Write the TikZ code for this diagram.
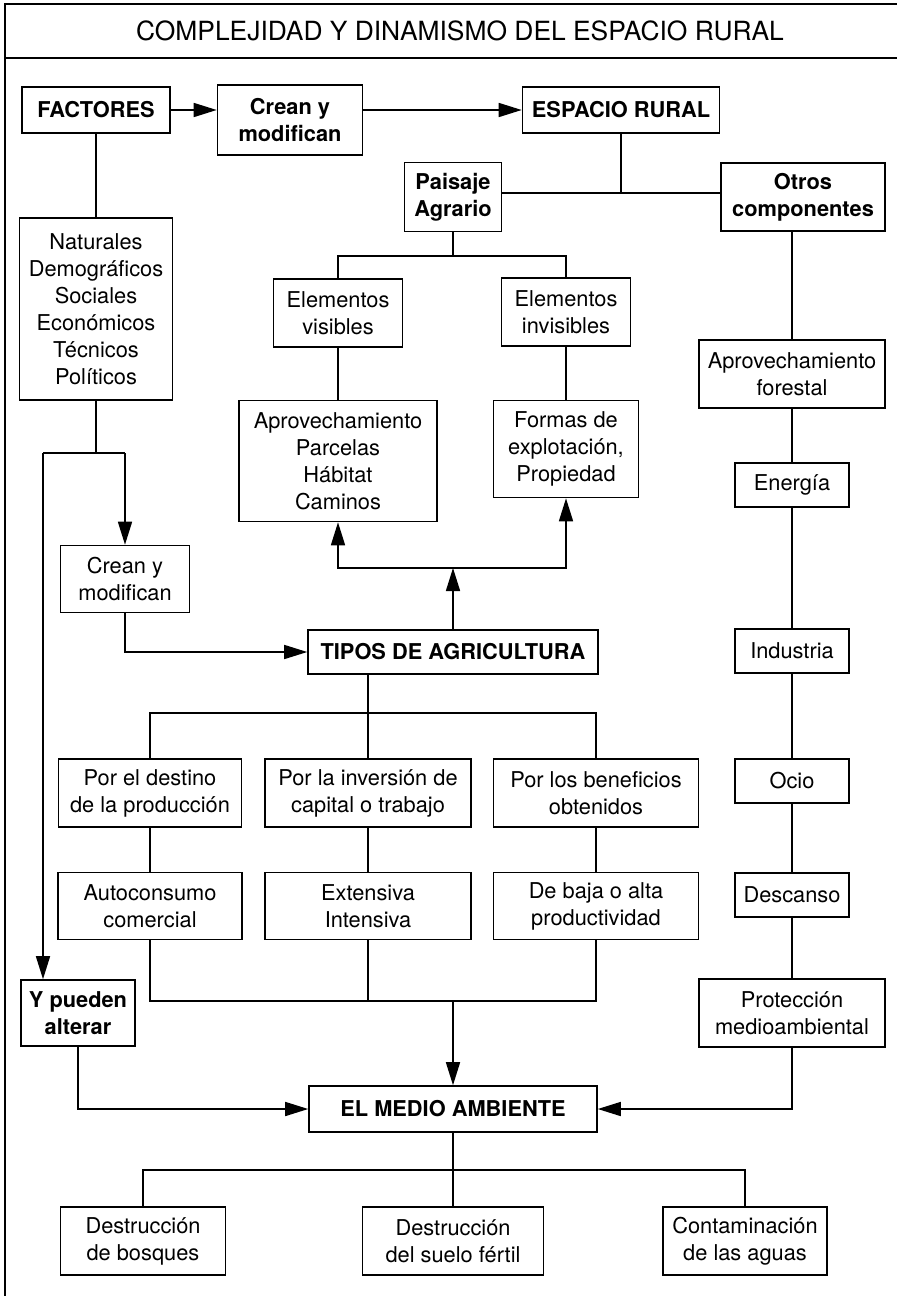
\documentclass[tikz,border=0pt]{standalone}
\usepackage{fontspec}
\setmainfont{TeX Gyre Heros}
\usetikzlibrary{arrows.meta}

\newcommand{\txt}{\fontsize{10.9}{13.5}\selectfont}

\begin{document}
\begin{tikzpicture}[x=0.5pt, y=-0.5pt,
    box/.style={draw, line width=0.8pt, align=center, inner sep=1pt, font=\txt},
    bbox/.style={box, font=\txt\bfseries},
    wh/.style 2 args={minimum width=#1*0.5pt, minimum height=#2*0.5pt},
    link/.style={line width=0.8pt},
    arr/.style={link, -{Triangle[length=11.5pt, width=7pt]}}]
  \useasboundingbox (0,0) rectangle (897,1296);

  % frame and title
  \draw[link] (5,1296) -- (5,4) -- (897,4);
  \draw[link] (5,58) -- (897,58);
  \node[font=\fontsize{13.2}{15}\selectfont] (title) at (460,31) {COMPLEJIDAD Y DINAMISMO DEL ESPACIO RURAL};

  % levels of the branch lines
  \coordinate (lvA) at (0,193);
  \coordinate (lvB) at (0,256);
  \coordinate (lvC) at (0,453);
  \coordinate (lvD) at (0,568);
  \coordinate (lvE) at (0,713);
  \coordinate (lvF) at (0,1001);
  \coordinate (lvH) at (0,1170);
  \coordinate (ypx) at (43,0);

  % top row
  \node[bbox, wh={148}{46}] (factores) at (96,110) {FACTORES};
  \node[bbox, wh={145}{70}] (crean) at (290,120) {Crean y\\modifican};
  \node[bbox, wh={197}{46}] (espacio) at (621,110) {ESPACIO RURAL};
  \node[bbox, wh={97}{69}] (paisaje) at (453,197) {Paisaje\\Agrario};
  \node[bbox, wh={164}{68}] (otros) at (803,197) {Otros\\componentes};

  % paisaje agrario
  \node[box, wh={129}{68}] (visibles) at (338,313) {Elementos\\visibles};
  \node[box, wh={129}{68}] (invisibles) at (566,312) {Elementos\\invisibles};
  \node[box, wh={198}{121}] (aprov) at (338,461) {Aprovechamiento\\Parcelas\\Hábitat\\Caminos};
  \node[box, wh={145}{97}] (formas) at (566,449) {Formas de\\explotación,\\Propiedad};

  % factores
  \node[box, wh={153}{182}] (lista) at (96,309) {Naturales\\Demográficos\\Sociales\\Económicos\\Técnicos\\Políticos};
  \node[box, wh={129}{67}] (creanb) at (125,579) {Crean y\\modifican};
  \node[bbox, wh={114}{66}] (ypueden) at (78,1013) {Y pueden\\alterar};

  % tipos de agricultura
  \node[bbox, wh={290}{44}] (tipos) at (453,652) {TIPOS DE AGRICULTURA};
  \node[box, wh={183}{68}] (destino) at (150,793) {Por el destino\\de la producción};
  \node[box, wh={206}{68}] (inversion) at (368,793) {Por la inversión de\\capital o trabajo};
  \node[box, wh={205}{68}] (beneficios) at (596,793) {Por los beneficios\\obtenidos};
  \node[box, wh={184}{67}] (autocons) at (150,906) {Autoconsumo\\comercial};
  \node[box, wh={206}{67}] (extensiva) at (368,906) {Extensiva\\Intensiva};
  \node[box, wh={205}{67}] (baja) at (596,906) {De baja o alta\\productividad};

  % otros componentes
  \node[box, wh={186}{68}] (forestal) at (792,374) {Aprovechamiento\\forestal};
  \node[box, wh={114}{44}] (energia) at (792,485) {Energía};
  \node[box, wh={114}{44}] (industria) at (792,651) {Industria};
  \node[box, wh={114}{44}] (ocio) at (792,781) {Ocio};
  \node[box, wh={114}{44}] (descanso) at (792,895) {Descanso};
  \node[box, wh={186}{68}] (proteccion) at (792,1013) {Protección\\medioambiental};

  % medio ambiente
  \node[bbox, wh={288}{46}] (medio) at (453,1109) {EL MEDIO AMBIENTE};
  \node[box, wh={165}{68}] (bosques) at (143,1241) {Destrucción\\de bosques};
  \node[box, wh={181}{68}] (suelo) at (453,1241) {Destrucción\\del suelo fértil};
  \node[box, wh={164}{68}] (aguas) at (745,1241) {Contaminación\\de las aguas};

  % connectors
  \draw[arr] (factores.east) -- (factores.east -| crean.west);
  \draw[arr] (crean.east |- factores.east) -- (espacio.west);
  \draw[link] (espacio.south) -- (espacio.south |- lvA);
  \draw[link] (paisaje.east |- lvA) -- (otros.west |- lvA);
  \draw[link] (paisaje.south) -- (paisaje.south |- lvB);
  \draw[link] (visibles.north) |- (invisibles.north |- lvB) -- (invisibles.north);
  \draw[link] (visibles.south) -- (aprov.north);
  \draw[link] (invisibles.south) -- (formas.north);

  \draw[link] (factores.south) -- (lista.north);
  \draw[link] (lista.south) -- (lista.south |- lvC);
  \draw[link] (ypx |- lvC) -- (creanb.north |- lvC);
  \draw[arr] (ypx |- lvC) -- (ypx |- ypueden.north);
  \draw[arr] (creanb.north |- lvC) -- (creanb.north);
  \draw[arr] (creanb.south) |- (tipos.west);

  \draw[arr] (tipos.north) -- (tipos.north |- lvD);
  \draw[arr] (tipos.north |- lvD) -| (aprov.south);
  \draw[arr] (tipos.north |- lvD) -| (formas.south);

  \draw[link] (inversion.north) -- (inversion.north |- tipos.south);
  \draw[link] (destino.north) |- (beneficios.north |- lvE) -- (beneficios.north);
  \draw[link] (destino.south) -- (autocons.north);
  \draw[link] (inversion.south) -- (extensiva.north);
  \draw[link] (beneficios.south) -- (baja.north);
  \draw[link] (autocons.south) |- (baja.south |- lvF) -- (baja.south);
  \draw[link] (extensiva.south) -- (extensiva.south |- lvF);
  \draw[arr] (medio.north |- lvF) -- (medio.north);

  \draw[link] (forestal.north |- otros.south) -- (forestal.north);
  \draw[link] (forestal.south) -- (energia.north);
  \draw[link] (energia.south) -- (industria.north);
  \draw[link] (industria.south) -- (ocio.north);
  \draw[link] (ocio.south) -- (descanso.north);
  \draw[link] (descanso.south) -- (proteccion.north);
  \draw[arr] (proteccion.south) |- (medio.east);
  \draw[arr] (ypueden.south) |- (medio.west);

  \draw[link] (medio.south) -- (suelo.north);
  \draw[link] (bosques.north) |- (aguas.north |- lvH) -- (aguas.north);
\end{tikzpicture}
\end{document}
